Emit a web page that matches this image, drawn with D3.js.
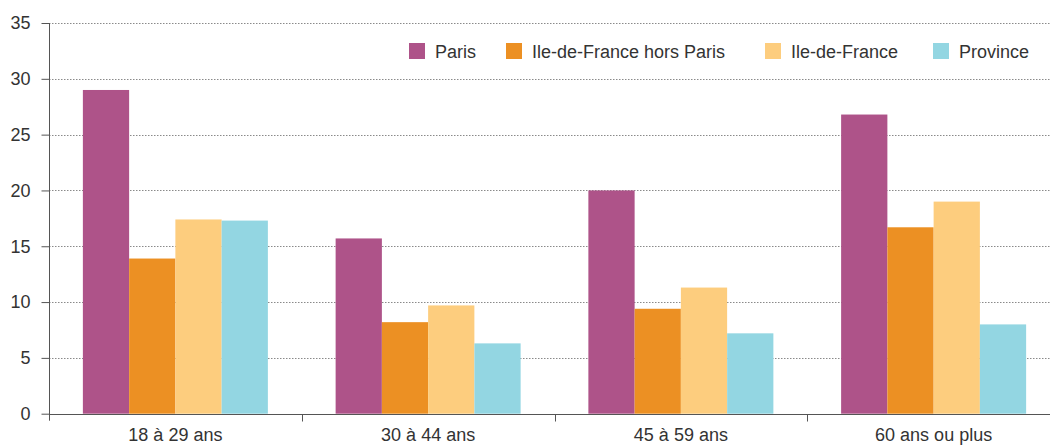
<!DOCTYPE html>
<html><head><meta charset="utf-8">
<script src="https://cdn.jsdelivr.net/npm/d3@7"></script>
<style>
body{margin:0;background:#fff;}
svg{display:block;font-family:"Liberation Sans",Arial,Helvetica,sans-serif;}
</style></head>
<body>
<svg id="c" width="1050" height="446"></svg>
<script>
const categories = ["18 à 29 ans", "30 à 44 ans", "45 à 59 ans", "60 ans ou plus"];
const series = ["Paris", "Ile-de-France hors Paris", "Ile-de-France", "Province"];
const paris = [29.0, 15.7, 20.0, 26.8];
const idfHorsParis = [13.9, 8.2, 9.4, 16.7];
const idf = [17.4, 9.7, 11.3, 19.0];
const province = [17.3, 6.3, 7.2, 8.0];
const yTicks = [0, 5, 10, 15, 20, 25, 30, 35];
const colors = ["#AE5389", "#EC9023", "#FDCD7E", "#93D6E2"];

(function () {
const values = [paris, idfHorsParis, idf, province];
const svg = d3.select("#c");
const mLeft = 49, mRight = 1060, mTop = 23, mBottom = 413.7;
const fs = "18px";

const y = d3.scaleLinear().domain([0, 35]).range([mBottom, mTop]);
const x0 = d3.scaleBand().domain(categories).range([mLeft, mRight]).padding(0);
const groupW = 185;
const off = (x0.bandwidth() - groupW) / 2;
const x1 = d3.scaleBand().domain(series).range([off, off + groupW]).padding(0);

// gridlines
svg.append("g").selectAll("line").data(yTicks.filter(d => d > 0)).join("line")
  .attr("x1", mLeft).attr("x2", 1050)
  .attr("y1", d => Math.round(y(d)) + 0.5).attr("y2", d => Math.round(y(d)) + 0.5)
  .attr("stroke", "#8a8a8a").attr("stroke-width", 1).attr("stroke-dasharray", "1.5,1.5");

// y axis
const yAxis = d3.axisLeft(y).tickValues(yTicks).tickSize(8).tickPadding(11);
const gy = svg.append("g").attr("transform", `translate(${mLeft + 0.5},0)`).call(yAxis);
gy.select(".domain").remove();
gy.selectAll(".tick line").attr("stroke", "#555");
gy.selectAll(".tick text").attr("fill", "#333").style("font-size", fs)
  .style("font-family", "'Liberation Sans',Arial,sans-serif");
gy.append("line").attr("x1", 0).attr("x2", 0).attr("y1", mTop).attr("y2", mBottom + 7)
  .attr("stroke", "#555");

// x axis
const xAxis = d3.axisBottom(x0).tickSize(0).tickPadding(14);
const gx = svg.append("g").attr("transform", `translate(0,${Math.round(mBottom) + 0.5})`).call(xAxis);
gx.select(".domain").remove();
gx.append("line").attr("x1", mLeft).attr("x2", 1050).attr("y1", 0).attr("y2", 0).attr("stroke", "#555");
gx.selectAll(".sep").data(categories.slice(1)).join("line").attr("class", "sep")
  .attr("x1", d => Math.round(x0(d)) + 0.5).attr("x2", d => Math.round(x0(d)) + 0.5)
  .attr("y1", 0).attr("y2", 7).attr("stroke", "#555");
gx.selectAll(".tick text").attr("fill", "#333").style("font-size", fs)
  .style("font-family", "'Liberation Sans',Arial,sans-serif");

// bars
const g = svg.append("g");
categories.forEach((c, ci) => {
  g.selectAll(null).data(series.map((s, si) => ({s, si, v: values[si][ci]}))).join("rect")
    .attr("x", d => x0(c) + x1(d.s))
    .attr("width", x1.bandwidth())
    .attr("y", d => y(d.v))
    .attr("height", d => y(0) - y(d.v))
    .attr("fill", d => colors[d.si]);
});

// legend
const legendX = [409, 506, 765, 933];
const leg = svg.append("g");
const items = leg.selectAll("g").data(series).join("g")
  .attr("transform", (d, i) => `translate(${legendX[i]},0)`);
items.append("rect").attr("width", 16).attr("height", 16).attr("y", 43).attr("fill", (d, i) => colors[i]);
items.append("text").text(d => d).attr("x", 26).attr("y", 57.5)
  .attr("fill", "#333").style("font-size", fs);
})();
</script>
</body></html>
